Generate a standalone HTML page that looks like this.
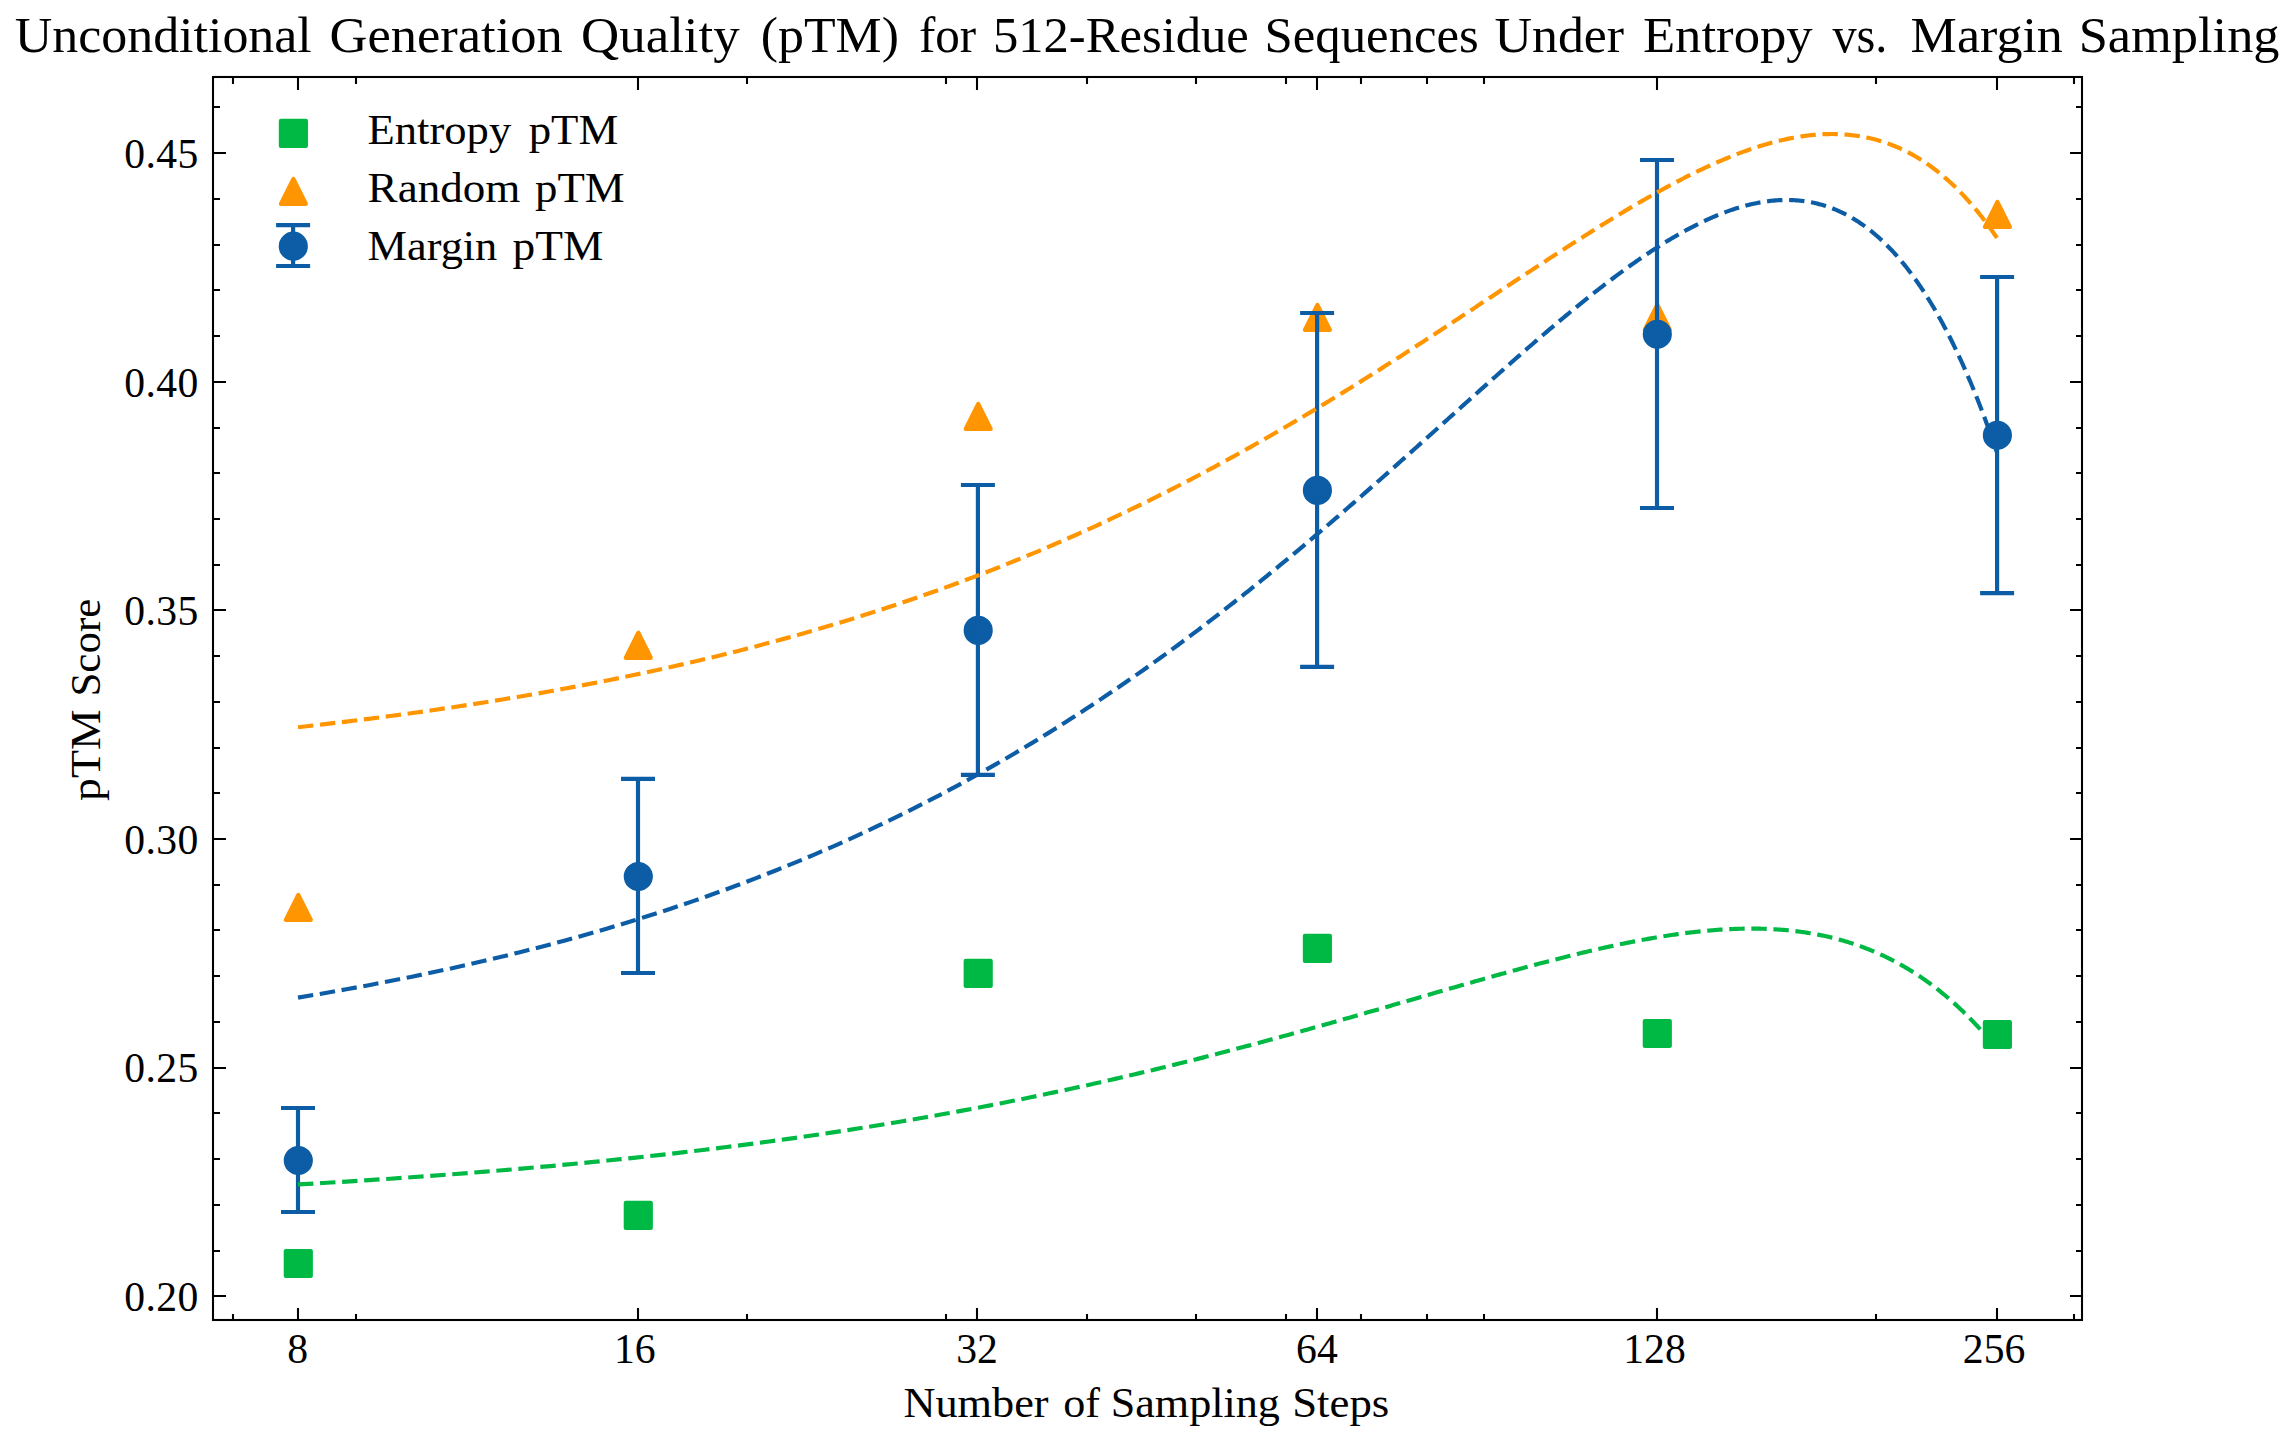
<!DOCTYPE html>
<html lang="en"><head><meta charset="utf-8"><title>Unconditional Generation Quality (pTM)</title>
<style>html,body{margin:0;padding:0;background:#fff}body{width:2295px;height:1440px;overflow:hidden}svg{display:block}</style>
</head><body>
<svg width="2295" height="1440" viewBox="0 0 2295 1440">
<rect x="0" y="0" width="2295" height="1440" fill="#fff"/>
<g fill="#00B945" stroke="#00B945" stroke-width="4.17" stroke-linejoin="round">
<rect x="285.80" y="1251.00" width="25" height="25"/>
<rect x="625.80" y="1202.90" width="25" height="25"/>
<rect x="965.70" y="960.90" width="25" height="25"/>
<rect x="1304.90" y="935.90" width="25" height="25"/>
<rect x="1644.80" y="1021.00" width="25" height="25"/>
<rect x="1984.90" y="1022.00" width="25" height="25"/>
</g>
<g fill="#FF9500" stroke="#FF9500" stroke-width="4.17" stroke-linejoin="round">
<polygon points="298.30,894.95 285.80,919.95 310.80,919.95"/>
<polygon points="638.30,632.80 625.80,657.80 650.80,657.80"/>
<polygon points="978.20,403.90 965.70,428.90 990.70,428.90"/>
<polygon points="1317.40,304.90 1304.90,329.90 1329.90,329.90"/>
<polygon points="1657.30,304.70 1644.80,329.70 1669.80,329.70"/>
<polygon points="1997.40,201.90 1984.90,226.90 2009.90,226.90"/>
</g>
<g fill="#0C5DA5" stroke="#0C5DA5" stroke-width="4.17">
<circle cx="298.30" cy="1160.50" r="12.5"/>
<path d="M298.00 1108.00V1212.00M281.00 1108.00H315.00M281.00 1212.00H315.00" fill="none"/>
<circle cx="638.30" cy="876.50" r="12.5"/>
<path d="M638.00 778.90V973.00M621.00 778.90H655.00M621.00 973.00H655.00" fill="none"/>
<circle cx="978.20" cy="630.40" r="12.5"/>
<path d="M977.90 485.00V774.90M960.90 485.00H994.90M960.90 774.90H994.90" fill="none"/>
<circle cx="1317.40" cy="490.40" r="12.5"/>
<path d="M1317.10 313.00V666.90M1300.10 313.00H1334.10M1300.10 666.90H1334.10" fill="none"/>
<circle cx="1657.30" cy="334.30" r="12.5"/>
<path d="M1657.00 160.00V508.00M1640.00 160.00H1674.00M1640.00 508.00H1674.00" fill="none"/>
<circle cx="1997.40" cy="435.30" r="12.5"/>
<path d="M1997.10 277.00V593.10M1980.10 277.00H2014.10M1980.10 593.10H2014.10" fill="none"/>
</g>
<path d="M298.00 1184.44 L322.74 1183.00 L346.28 1181.57 L368.75 1180.14 L390.24 1178.71 L410.82 1177.29 L430.57 1175.87 L449.56 1174.46 L467.83 1173.05 L485.46 1171.64 L502.47 1170.24 L518.91 1168.84 L534.81 1167.45 L550.22 1166.06 L565.15 1164.67 L579.65 1163.29 L593.73 1161.92 L607.41 1160.54 L620.73 1159.17 L633.69 1157.81 L646.32 1156.45 L658.63 1155.09 L670.64 1153.74 L682.36 1152.39 L693.81 1151.04 L705.00 1149.70 L715.93 1148.37 L726.63 1147.03 L737.10 1145.70 L747.35 1144.38 L757.40 1143.06 L767.24 1141.74 L776.88 1140.43 L786.34 1139.12 L795.62 1137.82 L804.73 1136.52 L813.67 1135.22 L822.46 1133.93 L831.08 1132.64 L839.56 1131.36 L847.90 1130.08 L856.09 1128.80 L864.15 1127.53 L872.08 1126.26 L879.88 1125.00 L887.57 1123.74 L895.13 1122.48 L902.58 1121.23 L909.91 1119.98 L917.14 1118.74 L924.26 1117.50 L931.29 1116.26 L938.21 1115.03 L945.03 1113.81 L951.76 1112.58 L958.41 1111.36 L964.96 1110.15 L971.42 1108.94 L977.80 1107.73 L984.10 1106.53 L990.32 1105.33 L996.46 1104.13 L1002.53 1102.94 L1008.52 1101.76 L1014.44 1100.57 L1020.29 1099.39 L1026.07 1098.22 L1031.78 1097.05 L1037.43 1095.88 L1043.01 1094.72 L1048.53 1093.56 L1053.99 1092.41 L1059.38 1091.26 L1064.72 1090.11 L1070.00 1088.97 L1075.23 1087.83 L1080.40 1086.70 L1085.52 1085.57 L1090.58 1084.44 L1095.59 1083.32 L1100.55 1082.20 L1105.46 1081.09 L1110.32 1079.98 L1115.14 1078.87 L1119.91 1077.77 L1124.63 1076.67 L1129.31 1075.58 L1133.94 1074.49 L1138.53 1073.40 L1143.07 1072.32 L1147.58 1071.24 L1152.04 1070.17 L1156.47 1069.10 L1160.85 1068.04 L1165.20 1066.98 L1169.50 1065.92 L1173.77 1064.87 L1178.00 1063.82 L1182.20 1062.77 L1186.36 1061.73 L1190.49 1060.69 L1194.58 1059.66 L1198.64 1058.63 L1202.66 1057.61 L1206.65 1056.59 L1210.61 1055.57 L1214.54 1054.56 L1218.43 1053.55 L1222.30 1052.54 L1226.13 1051.54 L1229.94 1050.55 L1233.72 1049.56 L1237.46 1048.57 L1241.18 1047.58 L1244.87 1046.60 L1248.54 1045.63 L1252.17 1044.66 L1255.78 1043.69 L1259.37 1042.72 L1262.92 1041.76 L1266.45 1040.81 L1269.96 1039.86 L1273.44 1038.91 L1276.90 1037.97 L1280.33 1037.03 L1283.74 1036.09 L1287.12 1035.16 L1290.49 1034.23 L1293.82 1033.31 L1297.14 1032.39 L1300.43 1031.47 L1303.71 1030.56 L1306.96 1029.66 L1310.19 1028.75 L1313.39 1027.85 L1316.58 1026.96 L1319.75 1026.07 L1322.89 1025.18 L1326.02 1024.30 L1329.13 1023.42 L1332.21 1022.54 L1335.28 1021.67 L1338.33 1020.81 L1341.36 1019.94 L1344.37 1019.09 L1347.36 1018.23 L1350.33 1017.38 L1353.29 1016.53 L1356.23 1015.69 L1359.15 1014.85 L1362.05 1014.02 L1364.94 1013.19 L1367.81 1012.36 L1370.66 1011.54 L1373.50 1010.72 L1376.32 1009.91 L1379.13 1009.10 L1381.91 1008.29 L1384.69 1007.49 L1387.44 1006.70 L1390.18 1005.90 L1392.91 1005.11 L1395.62 1004.33 L1398.32 1003.54 L1401.00 1002.77 L1403.67 1001.99 L1406.32 1001.22 L1408.96 1000.46 L1411.58 999.70 L1414.19 998.94 L1416.79 998.19 L1419.37 997.44 L1421.94 996.69 L1424.49 995.95 L1427.04 995.22 L1429.57 994.48 L1432.08 993.75 L1434.59 993.03 L1437.08 992.31 L1439.55 991.59 L1442.02 990.88 L1444.47 990.17 L1446.91 989.47 L1449.34 988.77 L1451.76 988.07 L1454.17 987.38 L1456.56 986.69 L1458.94 986.01 L1461.31 985.33 L1463.67 984.65 L1466.02 983.98 L1468.35 983.31 L1470.68 982.65 L1472.99 981.99 L1475.30 981.33 L1477.59 980.68 L1479.87 980.03 L1482.14 979.39 L1484.40 978.75 L1486.65 978.11 L1488.90 977.48 L1491.13 976.85 L1493.35 976.23 L1495.56 975.61 L1497.76 974.99 L1499.95 974.38 L1502.13 973.78 L1504.30 973.17 L1506.46 972.57 L1508.61 971.98 L1510.75 971.39 L1512.89 970.80 L1515.01 970.22 L1517.12 969.64 L1519.23 969.06 L1521.33 968.49 L1523.41 967.93 L1525.49 967.36 L1527.56 966.81 L1529.62 966.25 L1531.68 965.70 L1533.72 965.15 L1535.76 964.61 L1537.78 964.07 L1539.80 963.54 L1541.81 963.01 L1543.82 962.48 L1545.81 961.96 L1547.80 961.44 L1549.77 960.93 L1551.74 960.42 L1553.71 959.91 L1555.66 959.41 L1557.61 958.91 L1559.55 958.42 L1561.48 957.93 L1563.40 957.44 L1565.32 956.96 L1567.23 956.49 L1569.13 956.01 L1571.02 955.54 L1572.91 955.08 L1574.79 954.62 L1576.66 954.16 L1578.53 953.71 L1580.38 953.26 L1582.24 952.81 L1584.08 952.37 L1585.92 951.93 L1587.75 951.50 L1589.57 951.07 L1591.39 950.65 L1593.20 950.23 L1595.00 949.81 L1596.80 949.40 L1598.59 948.99 L1600.37 948.58 L1602.15 948.18 L1603.92 947.79 L1605.69 947.39 L1607.44 947.01 L1609.20 946.62 L1610.94 946.24 L1612.68 945.87 L1614.41 945.49 L1616.14 945.13 L1617.86 944.76 L1619.58 944.40 L1621.29 944.05 L1622.99 943.69 L1624.69 943.35 L1626.38 943.00 L1628.06 942.66 L1629.74 942.33 L1631.42 942.00 L1633.09 941.67 L1634.75 941.34 L1636.41 941.02 L1638.06 940.71 L1639.70 940.40 L1641.35 940.09 L1642.98 939.79 L1644.61 939.49 L1646.23 939.19 L1647.85 938.90 L1649.47 938.62 L1651.07 938.33 L1652.68 938.05 L1654.28 937.78 L1655.87 937.51 L1657.46 937.24 L1659.04 936.98 L1660.62 936.72 L1662.19 936.47 L1663.75 936.21 L1665.32 935.97 L1666.87 935.73 L1668.43 935.49 L1669.97 935.25 L1671.52 935.02 L1673.05 934.80 L1674.59 934.57 L1676.11 934.36 L1677.64 934.14 L1679.16 933.93 L1680.67 933.73 L1682.18 933.52 L1683.68 933.33 L1685.18 933.13 L1686.68 932.94 L1688.17 932.76 L1689.66 932.58 L1691.14 932.40 L1692.62 932.22 L1694.09 932.06 L1695.56 931.89 L1697.02 931.73 L1698.48 931.57 L1699.94 931.42 L1701.39 931.27 L1702.83 931.12 L1704.28 930.98 L1705.72 930.85 L1707.15 930.71 L1708.58 930.58 L1710.01 930.46 L1711.43 930.34 L1712.84 930.22 L1714.26 930.11 L1715.67 930.00 L1717.07 929.90 L1718.47 929.79 L1719.87 929.70 L1721.26 929.61 L1722.65 929.52 L1724.04 929.43 L1725.42 929.35 L1726.80 929.28 L1728.17 929.20 L1729.54 929.14 L1730.91 929.07 L1732.27 929.01 L1733.63 928.96 L1734.99 928.90 L1736.34 928.86 L1737.68 928.81 L1739.03 928.77 L1740.37 928.74 L1741.70 928.71 L1743.04 928.68 L1744.37 928.65 L1745.69 928.63 L1747.01 928.62 L1748.33 928.61 L1749.65 928.60 L1750.96 928.60 L1752.27 928.60 L1753.57 928.60 L1754.87 928.61 L1756.17 928.62 L1757.46 928.64 L1758.75 928.66 L1760.04 928.69 L1761.33 928.72 L1762.61 928.75 L1763.88 928.79 L1765.16 928.83 L1766.43 928.87 L1767.69 928.92 L1768.96 928.98 L1770.22 929.03 L1771.48 929.10 L1772.73 929.16 L1773.98 929.23 L1775.23 929.30 L1776.48 929.38 L1777.72 929.46 L1778.96 929.55 L1780.19 929.64 L1781.42 929.73 L1782.65 929.83 L1783.88 929.93 L1785.10 930.04 L1786.32 930.15 L1787.54 930.26 L1788.75 930.38 L1789.96 930.51 L1791.17 930.63 L1792.38 930.76 L1793.58 930.90 L1794.78 931.04 L1795.97 931.18 L1797.17 931.32 L1798.36 931.48 L1799.55 931.63 L1800.73 931.79 L1801.91 931.95 L1803.09 932.12 L1804.27 932.29 L1805.44 932.47 L1806.61 932.64 L1807.78 932.83 L1808.94 933.01 L1810.11 933.21 L1811.26 933.40 L1812.42 933.60 L1813.58 933.80 L1814.73 934.01 L1815.87 934.22 L1817.02 934.44 L1818.16 934.66 L1819.30 934.88 L1820.44 935.11 L1821.58 935.34 L1822.71 935.58 L1823.84 935.82 L1824.97 936.06 L1826.09 936.31 L1827.21 936.56 L1828.33 936.82 L1829.45 937.08 L1830.57 937.34 L1831.68 937.61 L1832.79 937.88 L1833.90 938.16 L1835.00 938.44 L1836.10 938.72 L1837.20 939.01 L1838.30 939.30 L1839.39 939.60 L1840.49 939.90 L1841.58 940.21 L1842.66 940.52 L1843.75 940.83 L1844.83 941.15 L1845.91 941.47 L1846.99 941.79 L1848.06 942.12 L1849.14 942.45 L1850.21 942.79 L1851.28 943.13 L1852.34 943.48 L1853.41 943.83 L1854.47 944.18 L1855.53 944.54 L1856.58 944.90 L1857.64 945.26 L1858.69 945.63 L1859.74 946.01 L1860.79 946.39 L1861.83 946.77 L1862.88 947.15 L1863.92 947.54 L1864.96 947.94 L1865.99 948.33 L1867.03 948.74 L1868.06 949.14 L1869.09 949.55 L1870.12 949.97 L1871.15 950.39 L1872.17 950.81 L1873.19 951.23 L1874.21 951.66 L1875.23 952.10 L1876.24 952.54 L1877.26 952.98 L1878.27 953.43 L1879.28 953.88 L1880.28 954.33 L1881.29 954.79 L1882.29 955.25 L1883.29 955.72 L1884.29 956.19 L1885.29 956.67 L1886.28 957.15 L1887.28 957.63 L1888.27 958.12 L1889.26 958.61 L1890.24 959.10 L1891.23 959.60 L1892.21 960.10 L1893.19 960.61 L1894.17 961.12 L1895.15 961.64 L1896.12 962.16 L1897.09 962.68 L1898.07 963.21 L1899.03 963.74 L1900.00 964.28 L1900.97 964.82 L1901.93 965.36 L1902.89 965.91 L1903.85 966.46 L1904.81 967.02 L1905.77 967.58 L1906.72 968.14 L1907.67 968.71 L1908.62 969.28 L1909.57 969.86 L1910.52 970.44 L1911.46 971.02 L1912.41 971.61 L1913.35 972.20 L1914.29 972.80 L1915.22 973.40 L1916.16 974.01 L1917.09 974.61 L1918.03 975.23 L1918.96 975.84 L1919.89 976.46 L1920.81 977.09 L1921.74 977.72 L1922.66 978.35 L1923.58 978.99 L1924.50 979.63 L1925.42 980.28 L1926.34 980.92 L1927.25 981.58 L1928.17 982.24 L1929.08 982.90 L1929.99 983.56 L1930.90 984.23 L1931.80 984.91 L1932.71 985.58 L1933.61 986.26 L1934.51 986.95 L1935.41 987.64 L1936.31 988.33 L1937.21 989.03 L1938.10 989.73 L1938.99 990.44 L1939.89 991.15 L1940.78 991.86 L1941.66 992.58 L1942.55 993.30 L1943.44 994.03 L1944.32 994.76 L1945.20 995.50 L1946.08 996.23 L1946.96 996.98 L1947.84 997.72 L1948.71 998.47 L1949.59 999.23 L1950.46 999.99 L1951.33 1000.75 L1952.20 1001.52 L1953.07 1002.29 L1953.94 1003.06 L1954.80 1003.84 L1955.66 1004.62 L1956.53 1005.41 L1957.39 1006.20 L1958.24 1007.00 L1959.10 1007.80 L1959.96 1008.60 L1960.81 1009.41 L1961.66 1010.22 L1962.52 1011.03 L1963.37 1011.85 L1964.21 1012.68 L1965.06 1013.50 L1965.91 1014.34 L1966.75 1015.17 L1967.59 1016.01 L1968.43 1016.86 L1969.27 1017.70 L1970.11 1018.56 L1970.95 1019.41 L1971.78 1020.27 L1972.62 1021.14 L1973.45 1022.00 L1974.28 1022.88 L1975.11 1023.75 L1975.94 1024.63 L1976.77 1025.52 L1977.59 1026.40 L1978.42 1027.30 L1979.24 1028.19 L1980.06 1029.09 L1980.88 1030.00 L1981.70 1030.91 L1982.52 1031.82 L1983.33 1032.74 L1984.15 1033.66 L1984.96 1034.58 L1985.77 1035.51 L1986.58 1036.44 L1987.39 1037.38 L1988.20 1038.32 L1989.01 1039.27 L1989.81 1040.22 L1990.62 1041.17 L1991.42 1042.13 L1992.22 1043.09 L1993.02 1044.05 L1993.82 1045.02 L1994.62 1046.00 L1995.41 1046.97 L1996.21 1047.96 L1997.00 1048.94" fill="none" stroke="#00B945" stroke-width="4.17" stroke-dasharray="15.42 6.67"/>
<path d="M298.00 727.23 L322.74 724.42 L346.28 721.62 L368.75 718.83 L390.24 716.04 L410.82 713.26 L430.57 710.49 L449.56 707.72 L467.83 704.96 L485.46 702.21 L502.47 699.46 L518.91 696.72 L534.81 693.99 L550.22 691.26 L565.15 688.54 L579.65 685.83 L593.73 683.13 L607.41 680.43 L620.73 677.73 L633.69 675.05 L646.32 672.37 L658.63 669.69 L670.64 667.03 L682.36 664.37 L693.81 661.71 L705.00 659.07 L715.93 656.43 L726.63 653.79 L737.10 651.17 L747.35 648.55 L757.40 645.93 L767.24 643.33 L776.88 640.73 L786.34 638.13 L795.62 635.55 L804.73 632.97 L813.67 630.39 L822.46 627.83 L831.08 625.27 L839.56 622.71 L847.90 620.17 L856.09 617.63 L864.15 615.09 L872.08 612.57 L879.88 610.05 L887.57 607.53 L895.13 605.03 L902.58 602.53 L909.91 600.03 L917.14 597.54 L924.26 595.06 L931.29 592.59 L938.21 590.12 L945.03 587.66 L951.76 585.21 L958.41 582.76 L964.96 580.32 L971.42 577.89 L977.80 575.46 L984.10 573.04 L990.32 570.63 L996.46 568.22 L1002.53 565.82 L1008.52 563.43 L1014.44 561.04 L1020.29 558.66 L1026.07 556.29 L1031.78 553.92 L1037.43 551.56 L1043.01 549.20 L1048.53 546.86 L1053.99 544.52 L1059.38 542.18 L1064.72 539.86 L1070.00 537.53 L1075.23 535.22 L1080.40 532.91 L1085.52 530.61 L1090.58 528.32 L1095.59 526.03 L1100.55 523.75 L1105.46 521.48 L1110.32 519.21 L1115.14 516.95 L1119.91 514.70 L1124.63 512.45 L1129.31 510.21 L1133.94 507.97 L1138.53 505.75 L1143.07 503.53 L1147.58 501.31 L1152.04 499.10 L1156.47 496.90 L1160.85 494.71 L1165.20 492.52 L1169.50 490.34 L1173.77 488.17 L1178.00 486.00 L1182.20 483.84 L1186.36 481.68 L1190.49 479.54 L1194.58 477.40 L1198.64 475.26 L1202.66 473.13 L1206.65 471.01 L1210.61 468.90 L1214.54 466.79 L1218.43 464.69 L1222.30 462.59 L1226.13 460.51 L1229.94 458.43 L1233.72 456.35 L1237.46 454.28 L1241.18 452.22 L1244.87 450.17 L1248.54 448.12 L1252.17 446.08 L1255.78 444.05 L1259.37 442.02 L1262.92 440.00 L1266.45 437.98 L1269.96 435.97 L1273.44 433.97 L1276.90 431.98 L1280.33 429.99 L1283.74 428.01 L1287.12 426.03 L1290.49 424.07 L1293.82 422.11 L1297.14 420.15 L1300.43 418.20 L1303.71 416.26 L1306.96 414.33 L1310.19 412.40 L1313.39 410.48 L1316.58 408.56 L1319.75 406.66 L1322.89 404.75 L1326.02 402.86 L1329.13 400.97 L1332.21 399.09 L1335.28 397.21 L1338.33 395.35 L1341.36 393.49 L1344.37 391.63 L1347.36 389.78 L1350.33 387.94 L1353.29 386.11 L1356.23 384.28 L1359.15 382.46 L1362.05 380.64 L1364.94 378.83 L1367.81 377.03 L1370.66 375.24 L1373.50 373.45 L1376.32 371.67 L1379.13 369.89 L1381.91 368.12 L1384.69 366.36 L1387.44 364.61 L1390.18 362.86 L1392.91 361.12 L1395.62 359.38 L1398.32 357.65 L1401.00 355.93 L1403.67 354.22 L1406.32 352.51 L1408.96 350.81 L1411.58 349.11 L1414.19 347.42 L1416.79 345.74 L1419.37 344.07 L1421.94 342.40 L1424.49 340.74 L1427.04 339.08 L1429.57 337.43 L1432.08 335.79 L1434.59 334.15 L1437.08 332.53 L1439.55 330.90 L1442.02 329.29 L1444.47 327.68 L1446.91 326.08 L1449.34 324.48 L1451.76 322.89 L1454.17 321.31 L1456.56 319.74 L1458.94 318.17 L1461.31 316.61 L1463.67 315.05 L1466.02 313.50 L1468.35 311.96 L1470.68 310.42 L1472.99 308.90 L1475.30 307.37 L1477.59 305.86 L1479.87 304.35 L1482.14 302.85 L1484.40 301.35 L1486.65 299.86 L1488.90 298.38 L1491.13 296.91 L1493.35 295.44 L1495.56 293.97 L1497.76 292.52 L1499.95 291.07 L1502.13 289.63 L1504.30 288.19 L1506.46 286.76 L1508.61 285.34 L1510.75 283.92 L1512.89 282.52 L1515.01 281.11 L1517.12 279.72 L1519.23 278.33 L1521.33 276.95 L1523.41 275.57 L1525.49 274.20 L1527.56 272.84 L1529.62 271.48 L1531.68 270.13 L1533.72 268.79 L1535.76 267.46 L1537.78 266.13 L1539.80 264.80 L1541.81 263.49 L1543.82 262.18 L1545.81 260.88 L1547.80 259.58 L1549.77 258.29 L1551.74 257.01 L1553.71 255.73 L1555.66 254.46 L1557.61 253.20 L1559.55 251.94 L1561.48 250.70 L1563.40 249.45 L1565.32 248.22 L1567.23 246.99 L1569.13 245.76 L1571.02 244.55 L1572.91 243.34 L1574.79 242.14 L1576.66 240.94 L1578.53 239.75 L1580.38 238.57 L1582.24 237.39 L1584.08 236.22 L1585.92 235.06 L1587.75 233.90 L1589.57 232.75 L1591.39 231.61 L1593.20 230.48 L1595.00 229.35 L1596.80 228.22 L1598.59 227.11 L1600.37 226.00 L1602.15 224.89 L1603.92 223.80 L1605.69 222.71 L1607.44 221.63 L1609.20 220.55 L1610.94 219.48 L1612.68 218.42 L1614.41 217.36 L1616.14 216.31 L1617.86 215.27 L1619.58 214.23 L1621.29 213.20 L1622.99 212.18 L1624.69 211.16 L1626.38 210.15 L1628.06 209.15 L1629.74 208.15 L1631.42 207.16 L1633.09 206.18 L1634.75 205.20 L1636.41 204.23 L1638.06 203.27 L1639.70 202.31 L1641.35 201.36 L1642.98 200.42 L1644.61 199.48 L1646.23 198.55 L1647.85 197.63 L1649.47 196.71 L1651.07 195.80 L1652.68 194.90 L1654.28 194.00 L1655.87 193.11 L1657.46 192.23 L1659.04 191.35 L1660.62 190.48 L1662.19 189.62 L1663.75 188.76 L1665.32 187.91 L1666.87 187.07 L1668.43 186.23 L1669.97 185.40 L1671.52 184.58 L1673.05 183.76 L1674.59 182.95 L1676.11 182.15 L1677.64 181.35 L1679.16 180.56 L1680.67 179.78 L1682.18 179.00 L1683.68 178.23 L1685.18 177.47 L1686.68 176.71 L1688.17 175.96 L1689.66 175.22 L1691.14 174.48 L1692.62 173.75 L1694.09 173.02 L1695.56 172.31 L1697.02 171.60 L1698.48 170.89 L1699.94 170.20 L1701.39 169.51 L1702.83 168.82 L1704.28 168.15 L1705.72 167.47 L1707.15 166.81 L1708.58 166.15 L1710.01 165.50 L1711.43 164.86 L1712.84 164.22 L1714.26 163.59 L1715.67 162.97 L1717.07 162.35 L1718.47 161.74 L1719.87 161.14 L1721.26 160.54 L1722.65 159.95 L1724.04 159.36 L1725.42 158.79 L1726.80 158.22 L1728.17 157.65 L1729.54 157.09 L1730.91 156.54 L1732.27 156.00 L1733.63 155.46 L1734.99 154.93 L1736.34 154.41 L1737.68 153.89 L1739.03 153.38 L1740.37 152.88 L1741.70 152.38 L1743.04 151.89 L1744.37 151.40 L1745.69 150.93 L1747.01 150.45 L1748.33 149.99 L1749.65 149.53 L1750.96 149.08 L1752.27 148.64 L1753.57 148.20 L1754.87 147.77 L1756.17 147.35 L1757.46 146.93 L1758.75 146.52 L1760.04 146.11 L1761.33 145.71 L1762.61 145.32 L1763.88 144.94 L1765.16 144.56 L1766.43 144.19 L1767.69 143.83 L1768.96 143.47 L1770.22 143.12 L1771.48 142.77 L1772.73 142.44 L1773.98 142.10 L1775.23 141.78 L1776.48 141.46 L1777.72 141.15 L1778.96 140.85 L1780.19 140.55 L1781.42 140.26 L1782.65 139.97 L1783.88 139.69 L1785.10 139.42 L1786.32 139.16 L1787.54 138.90 L1788.75 138.65 L1789.96 138.40 L1791.17 138.17 L1792.38 137.94 L1793.58 137.71 L1794.78 137.49 L1795.97 137.28 L1797.17 137.08 L1798.36 136.88 L1799.55 136.69 L1800.73 136.50 L1801.91 136.32 L1803.09 136.15 L1804.27 135.99 L1805.44 135.83 L1806.61 135.68 L1807.78 135.53 L1808.94 135.40 L1810.11 135.26 L1811.26 135.14 L1812.42 135.02 L1813.58 134.91 L1814.73 134.80 L1815.87 134.71 L1817.02 134.61 L1818.16 134.53 L1819.30 134.45 L1820.44 134.38 L1821.58 134.31 L1822.71 134.26 L1823.84 134.20 L1824.97 134.16 L1826.09 134.12 L1827.21 134.09 L1828.33 134.06 L1829.45 134.05 L1830.57 134.03 L1831.68 134.03 L1832.79 134.03 L1833.90 134.04 L1835.00 134.05 L1836.10 134.08 L1837.20 134.10 L1838.30 134.14 L1839.39 134.18 L1840.49 134.23 L1841.58 134.28 L1842.66 134.34 L1843.75 134.41 L1844.83 134.49 L1845.91 134.57 L1846.99 134.66 L1848.06 134.75 L1849.14 134.85 L1850.21 134.96 L1851.28 135.08 L1852.34 135.20 L1853.41 135.32 L1854.47 135.46 L1855.53 135.60 L1856.58 135.75 L1857.64 135.90 L1858.69 136.06 L1859.74 136.23 L1860.79 136.41 L1861.83 136.59 L1862.88 136.78 L1863.92 136.97 L1864.96 137.17 L1865.99 137.38 L1867.03 137.59 L1868.06 137.82 L1869.09 138.04 L1870.12 138.28 L1871.15 138.52 L1872.17 138.77 L1873.19 139.02 L1874.21 139.28 L1875.23 139.55 L1876.24 139.82 L1877.26 140.10 L1878.27 140.39 L1879.28 140.69 L1880.28 140.99 L1881.29 141.30 L1882.29 141.61 L1883.29 141.93 L1884.29 142.26 L1885.29 142.59 L1886.28 142.93 L1887.28 143.28 L1888.27 143.63 L1889.26 144.00 L1890.24 144.36 L1891.23 144.74 L1892.21 145.12 L1893.19 145.51 L1894.17 145.90 L1895.15 146.30 L1896.12 146.71 L1897.09 147.12 L1898.07 147.54 L1899.03 147.97 L1900.00 148.40 L1900.97 148.84 L1901.93 149.29 L1902.89 149.75 L1903.85 150.21 L1904.81 150.67 L1905.77 151.15 L1906.72 151.63 L1907.67 152.12 L1908.62 152.61 L1909.57 153.11 L1910.52 153.62 L1911.46 154.13 L1912.41 154.65 L1913.35 155.18 L1914.29 155.71 L1915.22 156.25 L1916.16 156.80 L1917.09 157.35 L1918.03 157.92 L1918.96 158.48 L1919.89 159.06 L1920.81 159.64 L1921.74 160.22 L1922.66 160.82 L1923.58 161.42 L1924.50 162.02 L1925.42 162.64 L1926.34 163.26 L1927.25 163.89 L1928.17 164.52 L1929.08 165.16 L1929.99 165.81 L1930.90 166.46 L1931.80 167.12 L1932.71 167.79 L1933.61 168.46 L1934.51 169.14 L1935.41 169.83 L1936.31 170.52 L1937.21 171.22 L1938.10 171.93 L1938.99 172.64 L1939.89 173.36 L1940.78 174.09 L1941.66 174.82 L1942.55 175.56 L1943.44 176.31 L1944.32 177.06 L1945.20 177.82 L1946.08 178.59 L1946.96 179.36 L1947.84 180.14 L1948.71 180.93 L1949.59 181.72 L1950.46 182.52 L1951.33 183.33 L1952.20 184.14 L1953.07 184.96 L1953.94 185.79 L1954.80 186.62 L1955.66 187.46 L1956.53 188.31 L1957.39 189.16 L1958.24 190.02 L1959.10 190.89 L1959.96 191.76 L1960.81 192.64 L1961.66 193.53 L1962.52 194.42 L1963.37 195.32 L1964.21 196.23 L1965.06 197.14 L1965.91 198.06 L1966.75 198.99 L1967.59 199.92 L1968.43 200.86 L1969.27 201.81 L1970.11 202.76 L1970.95 203.72 L1971.78 204.69 L1972.62 205.66 L1973.45 206.64 L1974.28 207.62 L1975.11 208.62 L1975.94 209.62 L1976.77 210.62 L1977.59 211.64 L1978.42 212.66 L1979.24 213.68 L1980.06 214.71 L1980.88 215.75 L1981.70 216.80 L1982.52 217.85 L1983.33 218.91 L1984.15 219.98 L1984.96 221.05 L1985.77 222.13 L1986.58 223.22 L1987.39 224.31 L1988.20 225.41 L1989.01 226.51 L1989.81 227.63 L1990.62 228.75 L1991.42 229.87 L1992.22 231.01 L1993.02 232.14 L1993.82 233.29 L1994.62 234.44 L1995.41 235.60 L1996.21 236.77 L1997.00 237.94" fill="none" stroke="#FF9500" stroke-width="4.17" stroke-dasharray="15.42 6.67"/>
<path d="M298.00 997.61 L322.74 993.46 L346.28 989.31 L368.75 985.18 L390.24 981.05 L410.82 976.94 L430.57 972.83 L449.56 968.74 L467.83 964.66 L485.46 960.59 L502.47 956.53 L518.91 952.49 L534.81 948.45 L550.22 944.42 L565.15 940.41 L579.65 936.40 L593.73 932.41 L607.41 928.42 L620.73 924.45 L633.69 920.49 L646.32 916.54 L658.63 912.60 L670.64 908.67 L682.36 904.75 L693.81 900.85 L705.00 896.95 L715.93 893.06 L726.63 889.19 L737.10 885.33 L747.35 881.47 L757.40 877.63 L767.24 873.80 L776.88 869.98 L786.34 866.17 L795.62 862.37 L804.73 858.58 L813.67 854.81 L822.46 851.04 L831.08 847.29 L839.56 843.54 L847.90 839.81 L856.09 836.09 L864.15 832.38 L872.08 828.68 L879.88 824.99 L887.57 821.31 L895.13 817.64 L902.58 813.98 L909.91 810.33 L917.14 806.70 L924.26 803.07 L931.29 799.46 L938.21 795.86 L945.03 792.27 L951.76 788.68 L958.41 785.11 L964.96 781.55 L971.42 778.01 L977.80 774.47 L984.10 770.94 L990.32 767.42 L996.46 763.92 L1002.53 760.42 L1008.52 756.94 L1014.44 753.47 L1020.29 750.01 L1026.07 746.56 L1031.78 743.12 L1037.43 739.69 L1043.01 736.27 L1048.53 732.86 L1053.99 729.46 L1059.38 726.08 L1064.72 722.70 L1070.00 719.34 L1075.23 715.99 L1080.40 712.64 L1085.52 709.31 L1090.58 705.99 L1095.59 702.68 L1100.55 699.38 L1105.46 696.09 L1110.32 692.82 L1115.14 689.55 L1119.91 686.30 L1124.63 683.05 L1129.31 679.82 L1133.94 676.59 L1138.53 673.38 L1143.07 670.18 L1147.58 666.99 L1152.04 663.81 L1156.47 660.64 L1160.85 657.48 L1165.20 654.34 L1169.50 651.20 L1173.77 648.08 L1178.00 644.96 L1182.20 641.86 L1186.36 638.77 L1190.49 635.68 L1194.58 632.61 L1198.64 629.55 L1202.66 626.50 L1206.65 623.47 L1210.61 620.44 L1214.54 617.42 L1218.43 614.42 L1222.30 611.42 L1226.13 608.44 L1229.94 605.47 L1233.72 602.50 L1237.46 599.55 L1241.18 596.61 L1244.87 593.68 L1248.54 590.76 L1252.17 587.85 L1255.78 584.96 L1259.37 582.07 L1262.92 579.20 L1266.45 576.33 L1269.96 573.48 L1273.44 570.63 L1276.90 567.80 L1280.33 564.98 L1283.74 562.17 L1287.12 559.37 L1290.49 556.58 L1293.82 553.81 L1297.14 551.04 L1300.43 548.28 L1303.71 545.54 L1306.96 542.80 L1310.19 540.08 L1313.39 537.37 L1316.58 534.67 L1319.75 531.98 L1322.89 529.30 L1326.02 526.63 L1329.13 523.97 L1332.21 521.32 L1335.28 518.69 L1338.33 516.06 L1341.36 513.44 L1344.37 510.84 L1347.36 508.25 L1350.33 505.67 L1353.29 503.09 L1356.23 500.53 L1359.15 497.98 L1362.05 495.45 L1364.94 492.92 L1367.81 490.40 L1370.66 487.89 L1373.50 485.40 L1376.32 482.92 L1379.13 480.44 L1381.91 477.98 L1384.69 475.53 L1387.44 473.09 L1390.18 470.66 L1392.91 468.24 L1395.62 465.83 L1398.32 463.43 L1401.00 461.04 L1403.67 458.67 L1406.32 456.30 L1408.96 453.95 L1411.58 451.61 L1414.19 449.27 L1416.79 446.95 L1419.37 444.64 L1421.94 442.34 L1424.49 440.05 L1427.04 437.77 L1429.57 435.51 L1432.08 433.25 L1434.59 431.01 L1437.08 428.77 L1439.55 426.55 L1442.02 424.33 L1444.47 422.13 L1446.91 419.94 L1449.34 417.76 L1451.76 415.59 L1454.17 413.43 L1456.56 411.29 L1458.94 409.15 L1461.31 407.02 L1463.67 404.91 L1466.02 402.80 L1468.35 400.71 L1470.68 398.63 L1472.99 396.56 L1475.30 394.49 L1477.59 392.44 L1479.87 390.41 L1482.14 388.38 L1484.40 386.36 L1486.65 384.35 L1488.90 382.36 L1491.13 380.37 L1493.35 378.40 L1495.56 376.44 L1497.76 374.48 L1499.95 372.54 L1502.13 370.61 L1504.30 368.69 L1506.46 366.78 L1508.61 364.88 L1510.75 363.00 L1512.89 361.12 L1515.01 359.26 L1517.12 357.40 L1519.23 355.56 L1521.33 353.72 L1523.41 351.90 L1525.49 350.09 L1527.56 348.29 L1529.62 346.50 L1531.68 344.72 L1533.72 342.96 L1535.76 341.20 L1537.78 339.45 L1539.80 337.72 L1541.81 335.99 L1543.82 334.28 L1545.81 332.58 L1547.80 330.89 L1549.77 329.21 L1551.74 327.54 L1553.71 325.88 L1555.66 324.23 L1557.61 322.59 L1559.55 320.96 L1561.48 319.35 L1563.40 317.74 L1565.32 316.15 L1567.23 314.57 L1569.13 313.00 L1571.02 311.43 L1572.91 309.88 L1574.79 308.34 L1576.66 306.82 L1578.53 305.30 L1580.38 303.79 L1582.24 302.29 L1584.08 300.81 L1585.92 299.33 L1587.75 297.87 L1589.57 296.42 L1591.39 294.98 L1593.20 293.55 L1595.00 292.13 L1596.80 290.72 L1598.59 289.32 L1600.37 287.93 L1602.15 286.55 L1603.92 285.19 L1605.69 283.83 L1607.44 282.49 L1609.20 281.16 L1610.94 279.83 L1612.68 278.52 L1614.41 277.22 L1616.14 275.93 L1617.86 274.65 L1619.58 273.38 L1621.29 272.13 L1622.99 270.88 L1624.69 269.64 L1626.38 268.42 L1628.06 267.21 L1629.74 266.00 L1631.42 264.81 L1633.09 263.63 L1634.75 262.46 L1636.41 261.30 L1638.06 260.15 L1639.70 259.01 L1641.35 257.89 L1642.98 256.77 L1644.61 255.67 L1646.23 254.57 L1647.85 253.49 L1649.47 252.42 L1651.07 251.35 L1652.68 250.30 L1654.28 249.26 L1655.87 248.23 L1657.46 247.22 L1659.04 246.21 L1660.62 245.21 L1662.19 244.23 L1663.75 243.25 L1665.32 242.29 L1666.87 241.33 L1668.43 240.39 L1669.97 239.46 L1671.52 238.54 L1673.05 237.63 L1674.59 236.73 L1676.11 235.84 L1677.64 234.97 L1679.16 234.10 L1680.67 233.24 L1682.18 232.40 L1683.68 231.57 L1685.18 230.74 L1686.68 229.93 L1688.17 229.13 L1689.66 228.34 L1691.14 227.56 L1692.62 226.79 L1694.09 226.03 L1695.56 225.29 L1697.02 224.55 L1698.48 223.83 L1699.94 223.11 L1701.39 222.41 L1702.83 221.72 L1704.28 221.03 L1705.72 220.36 L1707.15 219.70 L1708.58 219.05 L1710.01 218.42 L1711.43 217.79 L1712.84 217.17 L1714.26 216.57 L1715.67 215.97 L1717.07 215.39 L1718.47 214.82 L1719.87 214.25 L1721.26 213.70 L1722.65 213.16 L1724.04 212.63 L1725.42 212.11 L1726.80 211.61 L1728.17 211.11 L1729.54 210.62 L1730.91 210.15 L1732.27 209.68 L1733.63 209.23 L1734.99 208.79 L1736.34 208.35 L1737.68 207.93 L1739.03 207.52 L1740.37 207.12 L1741.70 206.74 L1743.04 206.36 L1744.37 205.99 L1745.69 205.64 L1747.01 205.29 L1748.33 204.96 L1749.65 204.63 L1750.96 204.32 L1752.27 204.02 L1753.57 203.73 L1754.87 203.45 L1756.17 203.18 L1757.46 202.92 L1758.75 202.67 L1760.04 202.44 L1761.33 202.21 L1762.61 202.00 L1763.88 201.79 L1765.16 201.60 L1766.43 201.42 L1767.69 201.25 L1768.96 201.09 L1770.22 200.94 L1771.48 200.80 L1772.73 200.67 L1773.98 200.55 L1775.23 200.45 L1776.48 200.35 L1777.72 200.27 L1778.96 200.20 L1780.19 200.13 L1781.42 200.08 L1782.65 200.04 L1783.88 200.01 L1785.10 199.99 L1786.32 199.98 L1787.54 199.99 L1788.75 200.00 L1789.96 200.02 L1791.17 200.06 L1792.38 200.10 L1793.58 200.16 L1794.78 200.23 L1795.97 200.31 L1797.17 200.40 L1798.36 200.50 L1799.55 200.61 L1800.73 200.73 L1801.91 200.86 L1803.09 201.01 L1804.27 201.16 L1805.44 201.33 L1806.61 201.50 L1807.78 201.69 L1808.94 201.89 L1810.11 202.10 L1811.26 202.32 L1812.42 202.55 L1813.58 202.79 L1814.73 203.04 L1815.87 203.30 L1817.02 203.58 L1818.16 203.86 L1819.30 204.16 L1820.44 204.47 L1821.58 204.78 L1822.71 205.11 L1823.84 205.45 L1824.97 205.80 L1826.09 206.16 L1827.21 206.53 L1828.33 206.92 L1829.45 207.31 L1830.57 207.71 L1831.68 208.13 L1832.79 208.56 L1833.90 208.99 L1835.00 209.44 L1836.10 209.90 L1837.20 210.37 L1838.30 210.85 L1839.39 211.34 L1840.49 211.84 L1841.58 212.35 L1842.66 212.88 L1843.75 213.41 L1844.83 213.96 L1845.91 214.52 L1846.99 215.08 L1848.06 215.66 L1849.14 216.25 L1850.21 216.85 L1851.28 217.46 L1852.34 218.08 L1853.41 218.71 L1854.47 219.36 L1855.53 220.01 L1856.58 220.68 L1857.64 221.35 L1858.69 222.04 L1859.74 222.74 L1860.79 223.45 L1861.83 224.16 L1862.88 224.89 L1863.92 225.64 L1864.96 226.39 L1865.99 227.15 L1867.03 227.92 L1868.06 228.71 L1869.09 229.50 L1870.12 230.31 L1871.15 231.13 L1872.17 231.95 L1873.19 232.79 L1874.21 233.64 L1875.23 234.50 L1876.24 235.38 L1877.26 236.26 L1878.27 237.15 L1879.28 238.05 L1880.28 238.97 L1881.29 239.89 L1882.29 240.83 L1883.29 241.78 L1884.29 242.74 L1885.29 243.71 L1886.28 244.69 L1887.28 245.68 L1888.27 246.68 L1889.26 247.69 L1890.24 248.71 L1891.23 249.75 L1892.21 250.79 L1893.19 251.85 L1894.17 252.92 L1895.15 253.99 L1896.12 255.08 L1897.09 256.18 L1898.07 257.29 L1899.03 258.41 L1900.00 259.55 L1900.97 260.69 L1901.93 261.84 L1902.89 263.01 L1903.85 264.18 L1904.81 265.37 L1905.77 266.57 L1906.72 267.77 L1907.67 268.99 L1908.62 270.22 L1909.57 271.46 L1910.52 272.71 L1911.46 273.98 L1912.41 275.25 L1913.35 276.53 L1914.29 277.83 L1915.22 279.13 L1916.16 280.45 L1917.09 281.78 L1918.03 283.12 L1918.96 284.47 L1919.89 285.83 L1920.81 287.20 L1921.74 288.58 L1922.66 289.97 L1923.58 291.37 L1924.50 292.79 L1925.42 294.21 L1926.34 295.65 L1927.25 297.10 L1928.17 298.56 L1929.08 300.02 L1929.99 301.50 L1930.90 302.99 L1931.80 304.49 L1932.71 306.01 L1933.61 307.53 L1934.51 309.06 L1935.41 310.61 L1936.31 312.16 L1937.21 313.73 L1938.10 315.31 L1938.99 316.90 L1939.89 318.49 L1940.78 320.10 L1941.66 321.73 L1942.55 323.36 L1943.44 325.00 L1944.32 326.65 L1945.20 328.32 L1946.08 329.99 L1946.96 331.68 L1947.84 333.37 L1948.71 335.08 L1949.59 336.80 L1950.46 338.53 L1951.33 340.27 L1952.20 342.02 L1953.07 343.78 L1953.94 345.56 L1954.80 347.34 L1955.66 349.13 L1956.53 350.94 L1957.39 352.75 L1958.24 354.58 L1959.10 356.42 L1959.96 358.27 L1960.81 360.13 L1961.66 362.00 L1962.52 363.88 L1963.37 365.77 L1964.21 367.67 L1965.06 369.59 L1965.91 371.51 L1966.75 373.45 L1967.59 375.40 L1968.43 377.35 L1969.27 379.32 L1970.11 381.30 L1970.95 383.29 L1971.78 385.29 L1972.62 387.30 L1973.45 389.33 L1974.28 391.36 L1975.11 393.40 L1975.94 395.46 L1976.77 397.52 L1977.59 399.60 L1978.42 401.69 L1979.24 403.79 L1980.06 405.90 L1980.88 408.02 L1981.70 410.15 L1982.52 412.29 L1983.33 414.44 L1984.15 416.61 L1984.96 418.78 L1985.77 420.97 L1986.58 423.16 L1987.39 425.37 L1988.20 427.59 L1989.01 429.82 L1989.81 432.06 L1990.62 434.31 L1991.42 436.57 L1992.22 438.84 L1993.02 441.12 L1993.82 443.42 L1994.62 445.72 L1995.41 448.04 L1996.21 450.36 L1997.00 452.70" fill="none" stroke="#0C5DA5" stroke-width="4.17" stroke-dasharray="15.42 6.67"/>
<path d="M298 1320.0v-12M298 77.0v13M638 1320.0v-12M638 77.0v13M977 1320.0v-12M977 77.0v13M1317 1320.0v-12M1317 77.0v13M1657 1320.0v-12M1657 77.0v13M1997 1320.0v-12M1997 77.0v13M233 1320.0v-6M233 77.0v7M356 1320.0v-6M356 77.0v7M747 1320.0v-6M747 77.0v7M946 1320.0v-6M946 77.0v7M1087 1320.0v-6M1087 77.0v7M1196 1320.0v-6M1196 77.0v7M1286 1320.0v-6M1286 77.0v7M1361 1320.0v-6M1361 77.0v7M1427 1320.0v-6M1427 77.0v7M1484 1320.0v-6M1484 77.0v7M1876 1320.0v-6M1876 77.0v7M2074 1320.0v-6M2074 77.0v7M213.0 1296h13M2082.0 1296h-12M213.0 1251h7M2082.0 1251h-6M213.0 1205h7M2082.0 1205h-6M213.0 1159h7M2082.0 1159h-6M213.0 1113h7M2082.0 1113h-6M213.0 1068h13M2082.0 1068h-12M213.0 1022h7M2082.0 1022h-6M213.0 976h7M2082.0 976h-6M213.0 930h7M2082.0 930h-6M213.0 885h7M2082.0 885h-6M213.0 839h13M2082.0 839h-12M213.0 793h7M2082.0 793h-6M213.0 748h7M2082.0 748h-6M213.0 702h7M2082.0 702h-6M213.0 656h7M2082.0 656h-6M213.0 610h13M2082.0 610h-12M213.0 565h7M2082.0 565h-6M213.0 519h7M2082.0 519h-6M213.0 473h7M2082.0 473h-6M213.0 428h7M2082.0 428h-6M213.0 382h13M2082.0 382h-12M213.0 336h7M2082.0 336h-6M213.0 290h7M2082.0 290h-6M213.0 245h7M2082.0 245h-6M213.0 199h7M2082.0 199h-6M213.0 153h13M2082.0 153h-12M213.0 107h7M2082.0 107h-6" fill="none" stroke="#000" stroke-width="2.08"/>
<rect x="213.0" y="77.0" width="1869.0" height="1243.0" fill="none" stroke="#000" stroke-width="2.08"/>
<g font-family="'Liberation Serif', 'DejaVu Serif', serif" fill="#000">
<text y="52.3" font-size="51" ><tspan x="14.70" textLength="297.10" lengthAdjust="spacingAndGlyphs">Unconditional</tspan> <tspan x="329.50" textLength="233.30" lengthAdjust="spacingAndGlyphs">Generation</tspan> <tspan x="581.00" textLength="158.70" lengthAdjust="spacingAndGlyphs">Quality</tspan> <tspan x="760.80" textLength="138.14" lengthAdjust="spacingAndGlyphs">(pTM)</tspan> <tspan x="918.90" textLength="57.24" lengthAdjust="spacingAndGlyphs">for</tspan> <tspan x="992.90" textLength="255.93" lengthAdjust="spacingAndGlyphs">512-Residue</tspan> <tspan x="1264.60" textLength="214.24" lengthAdjust="spacingAndGlyphs">Sequences</tspan> <tspan x="1494.50" textLength="129.60" lengthAdjust="spacingAndGlyphs">Under</tspan> <tspan x="1642.90" textLength="169.80" lengthAdjust="spacingAndGlyphs">Entropy</tspan> <tspan x="1832.50" textLength="54.93" lengthAdjust="spacingAndGlyphs">vs.</tspan> <tspan x="1910.60" textLength="152.31" lengthAdjust="spacingAndGlyphs">Margin</tspan> <tspan x="2078.70" textLength="200.84" lengthAdjust="spacingAndGlyphs">Sampling</tspan></text>
<g font-size="41.67">
<text x="124.2" y="1311.0" textLength="74.2" lengthAdjust="spacing">0.20</text>
<text x="124.2" y="1082.4" textLength="74.2" lengthAdjust="spacing">0.25</text>
<text x="124.2" y="853.8" textLength="74.2" lengthAdjust="spacing">0.30</text>
<text x="124.2" y="625.2" textLength="74.2" lengthAdjust="spacing">0.35</text>
<text x="124.2" y="396.6" textLength="74.2" lengthAdjust="spacing">0.40</text>
<text x="124.2" y="168.0" textLength="74.2" lengthAdjust="spacing">0.45</text>
<text x="297.7" y="1363.3" text-anchor="middle">8</text>
<text x="634.8" y="1363.3" text-anchor="middle">16</text>
<text x="977.1" y="1363.3" text-anchor="middle">32</text>
<text x="1316.9" y="1363.3" text-anchor="middle">64</text>
<text x="1654.5" y="1363.3" text-anchor="middle">128</text>
<text x="1994.1" y="1363.3" text-anchor="middle">256</text>
<text y="1417" font-size="41.67" ><tspan x="903.40" textLength="145.19" lengthAdjust="spacingAndGlyphs">Number</tspan> <tspan x="1063.20" textLength="36.77" lengthAdjust="spacingAndGlyphs">of</tspan> <tspan x="1110.70" textLength="169.22" lengthAdjust="spacingAndGlyphs">Sampling</tspan> <tspan x="1292.20" textLength="97.05" lengthAdjust="spacingAndGlyphs">Steps</tspan></text>
<text y="0" font-size="41.67" transform="translate(100 0) rotate(-90)"><tspan x="-800.90" textLength="91.50" lengthAdjust="spacingAndGlyphs">pTM</tspan> <tspan x="-696.60" textLength="97.96" lengthAdjust="spacingAndGlyphs">Score</tspan></text>
<text y="144" font-size="41.67" ><tspan x="367.60" textLength="143.59" lengthAdjust="spacingAndGlyphs">Entropy</tspan> <tspan x="528.70" textLength="89.69" lengthAdjust="spacingAndGlyphs">pTM</tspan></text>
<text y="201.5" font-size="41.67" ><tspan x="367.60" textLength="152.79" lengthAdjust="spacingAndGlyphs">Random</tspan> <tspan x="535.00" textLength="89.69" lengthAdjust="spacingAndGlyphs">pTM</tspan></text>
<text y="259.9" font-size="41.67" ><tspan x="367.60" textLength="129.69" lengthAdjust="spacingAndGlyphs">Margin</tspan> <tspan x="512.60" textLength="90.70" lengthAdjust="spacingAndGlyphs">pTM</tspan></text>
</g></g>
<rect x="280.9" y="120.9" width="25" height="25" fill="#00B945" stroke="#00B945" stroke-width="4.17" stroke-linejoin="round"/>
<g fill="#FF9500" stroke="#FF9500" stroke-width="4.17" stroke-linejoin="round"><polygon points="293.40,178.85 280.90,203.85 305.90,203.85"/></g>
<g fill="#0C5DA5" stroke="#0C5DA5" stroke-width="4.17"><circle cx="293.3" cy="246.2" r="12.5"/><path d="M293.1 225.1V266M276.1 225.1H310.1M276.1 266H310.1" fill="none"/></g>
</svg>
</body></html>
